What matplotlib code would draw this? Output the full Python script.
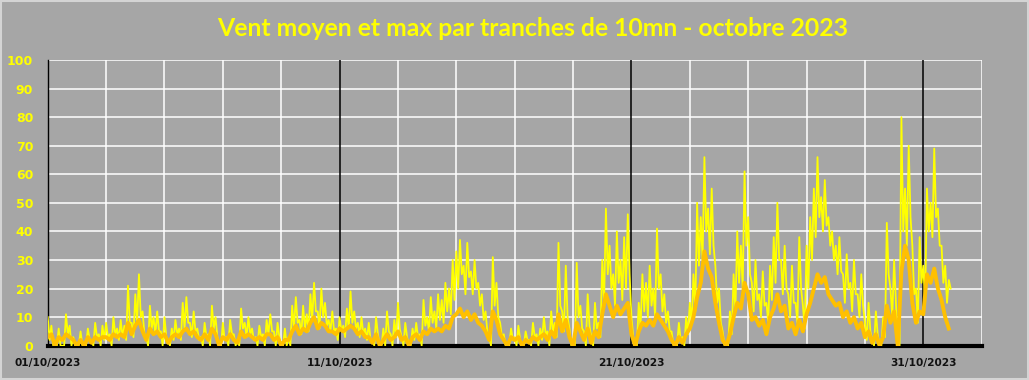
import numpy as np
import matplotlib.pyplot as plt
from matplotlib.patches import Rectangle

# Valeurs lues sur le graphique, pas de 3 h (8 valeurs par jour), du 01/10 au 31/10
# pics du vent max
vent_max = [
    10, 7, 0, 6, 0, 11, 7, 3,        # 01
    0, 5, 0, 6, 2, 8, 4, 7,          # 02
    8, 4, 10, 6, 9, 7, 21, 8,        # 03
    18, 25, 12, 3, 14, 10, 12, 5,    # 04
    10, 2, 6, 9, 6, 15, 17, 8,       # 05
    12, 6, 3, 8, 4, 14, 10, 0,       # 06
    8, 3, 9, 4, 2, 13, 8, 10,        # 07
    6, 3, 7, 4, 9, 11, 5, 8,         # 08
    0, 6, 3, 14, 17, 9, 14, 11,      # 09
    18, 22, 12, 20, 15, 9, 12, 6,    # 10
    10, 7, 13, 19, 12, 8, 10, 6,     # 11
    8, 2, 10, 0, 6, 12, 4, 9,        # 12
    15, 3, 8, 0, 6, 8, 4, 16,        # 13
    10, 17, 12, 18, 16, 22, 20, 30,  # 14
    33, 37, 28, 36, 26, 30, 22, 18,  # 15
    12, 3, 31, 22, 8, 4, 0, 6,       # 16
    3, 7, 0, 5, 2, 8, 4, 6,          # 17
    10, 5, 12, 8, 36, 12, 28, 6,     # 18
    0, 29, 14, 5, 18, 3, 15, 8,      # 19
    30, 48, 35, 25, 40, 30, 38, 46,  # 20
    10, 0, 15, 25, 22, 28, 20, 41,   # 21
    25, 18, 12, 5, 0, 8, 3, 10,      # 22
    15, 25, 50, 45, 66, 48, 55, 28,  # 23
    20, 5, 0, 12, 25, 40, 35, 61,    # 24
    45, 22, 30, 18, 26, 15, 28, 38,  # 25
    50, 30, 35, 18, 28, 15, 38, 14,  # 26
    35, 45, 55, 66, 52, 58, 45, 40,  # 27
    35, 38, 25, 32, 22, 30, 18, 25,  # 28
    8, 15, 2, 12, 0, 10, 43, 20,     # 29
    30, 0, 80, 55, 70, 35, 20, 38,   # 30
    28, 55, 50, 69, 48, 35, 28, 23,  # 31
]

# creux du vent max, entre deux pics (bas de la bande jaune)
vent_max_creux = [
    2, 0, 0, 0, 0, 4, 0, 0,
    0, 0, 0, 2, 0, 3, 0, 2,
    3, 0, 4, 2, 3, 2, 8, 3,
    8, 10, 4, 0, 6, 4, 5, 0,
    3, 0, 2, 4, 2, 6, 8, 3,
    5, 2, 0, 3, 0, 6, 3, 0,
    2, 0, 4, 0, 0, 6, 3, 4,
    2, 0, 3, 0, 4, 5, 0, 3,
    0, 0, 0, 6, 8, 4, 6, 5,
    9, 12, 6, 10, 7, 5, 5, 2,
    5, 3, 6, 8, 6, 3, 4, 2,
    2, 0, 4, 0, 0, 5, 0, 3,
    6, 0, 3, 0, 2, 3, 0, 7,
    5, 8, 6, 9, 8, 12, 11, 16,
    20, 25, 18, 24, 18, 20, 14, 9,
    5, 0, 14, 10, 3, 0, 0, 2,
    0, 2, 0, 2, 0, 3, 0, 2,
    4, 0, 5, 3, 14, 5, 10, 0,
    0, 10, 6, 0, 7, 0, 6, 3,
    15, 25, 20, 14, 22, 16, 20, 25,
    3, 0, 6, 12, 10, 14, 10, 20,
    12, 8, 5, 0, 0, 2, 0, 4,
    8, 12, 28, 30, 40, 32, 35, 15,
    8, 0, 0, 4, 12, 22, 20, 35,
    25, 12, 16, 10, 14, 8, 16, 22,
    30, 18, 20, 10, 15, 8, 20, 6,
    20, 30, 38, 45, 40, 42, 35, 30,
    25, 26, 15, 20, 12, 18, 10, 14,
    2, 5, 0, 4, 0, 3, 25, 10,
    15, 0, 40, 35, 45, 18, 8, 22,
    15, 40, 38, 45, 35, 22, 15, 20,
]

vent_moyen = [
    3, 4, 0, 3, 2, 4, 3, 2,
    0, 2, 0, 3, 1, 3, 2, 3,
    3, 2, 4, 3, 4, 3, 8, 4,
    7, 9, 5, 2, 6, 4, 5, 3,
    4, 1, 3, 4, 3, 5, 6, 4,
    5, 3, 2, 4, 2, 6, 4, 0,
    3, 2, 4, 2, 1, 5, 3, 4,
    3, 2, 3, 2, 4, 4, 2, 3,
    0, 2, 2, 5, 7, 4, 6, 5,
    8, 10, 6, 8, 7, 5, 5, 4,
    6, 5, 6, 7, 6, 4, 5, 3,
    3, 1, 4, 0, 2, 4, 2, 3,
    5, 2, 3, 0, 3, 4, 2, 5,
    4, 6, 5, 6, 5, 7, 6, 10,
    11, 13, 10, 12, 9, 11, 8, 7,
    5, 2, 12, 9, 4, 2, 0, 3,
    2, 3, 0, 2, 1, 3, 2, 3,
    4, 2, 5, 3, 11, 5, 9, 3,
    0, 8, 5, 2, 6, 1, 5, 3,
    11, 18, 14, 10, 14, 11, 13, 15,
    4, 0, 5, 8, 7, 9, 7, 11,
    9, 7, 5, 2, 0, 3, 1, 4,
    6, 10, 17, 22, 33, 27, 24, 15,
    8, 2, 0, 4, 10, 15, 13, 22,
    18, 9, 10, 7, 9, 4, 10, 13,
    18, 12, 14, 6, 8, 4, 9, 5,
    11, 15, 20, 25, 22, 24, 18, 16,
    14, 15, 10, 12, 8, 10, 6, 8,
    3, 5, 1, 4, 0, 3, 14, 8,
    12, 0, 26, 35, 30, 15, 8, 12,
    11, 25, 22, 27, 20, 16, 10, 6,
]

labels_dates = ['01/10/2023', '11/10/2023', '21/10/2023', '31/10/2023']
pos_dates = [0, 10, 20, 30]
titre = 'Vent moyen et max par tranches de 10mn - octobre 2023'

fond = '#a6a6a6'
jaune = '#ffff00'
orange = '#ffc000'

# temps en jours depuis le 01/10 00:00 ; les creux tombent entre deux pics
t = np.arange(len(vent_max)) / 8.0
t_max = np.empty(2 * len(t))
t_max[0::2] = t
t_max[1::2] = t + 1 / 16
v_max = np.empty(2 * len(t))
v_max[0::2] = vent_max
v_max[1::2] = vent_max_creux

fig = plt.figure(figsize=(10.29, 3.8), dpi=100, facecolor=fond)
ax = fig.add_axes([0.0464, 0.0903, 0.9076, 0.7518])
ax.set_facecolor(fond)

ax.plot(t_max, v_max, color=jaune, lw=1.3, zorder=3)
ax.plot(t, vent_moyen, color=orange, lw=2.8, zorder=4)

ax.set_xlim(0, 32)
ax.set_ylim(0, 100)

# quadrillage blanc tous les 2 jours / 10 unites
for x in range(2, 33, 2):
    if x % 10 != 0:
        ax.axvline(x, color='white', lw=1.1, zorder=1)
for y in range(10, 101, 10):
    ax.axhline(y, color='white', lw=1.1, zorder=1)
for x in pos_dates[1:]:
    ax.axvline(x, color='black', lw=1.1, zorder=2)

ax.set_yticks(range(0, 101, 10))
ax.set_xticks(pos_dates)
ax.set_xticklabels(labels_dates)
ax.tick_params(axis='y', length=0, pad=10.5, labelcolor=jaune, labelsize=9)
ax.tick_params(axis='x', length=0, pad=9, labelcolor='#111111', labelsize=7.6)
for lab in ax.get_yticklabels() + ax.get_xticklabels():
    lab.set_fontweight('bold')
    lab.set_family('DejaVu Sans')

ax.spines['top'].set_visible(False)
ax.spines['right'].set_visible(False)
ax.spines['left'].set_color('black')
ax.spines['left'].set_linewidth(1.0)
ax.spines['bottom'].set_color('black')
ax.spines['bottom'].set_linewidth(3.0)

fig.text(0.518, 0.925, titre, ha='center', va='center', color=jaune,
         fontsize=17.8, fontweight='bold', family='Lato')

fig.patches.append(Rectangle((0.001, 0.002), 0.998, 0.996, transform=fig.transFigure,
                             fill=False, edgecolor='#d4d4d4', lw=1.5))

fig.savefig('out.png', dpi=100, facecolor=fond)
